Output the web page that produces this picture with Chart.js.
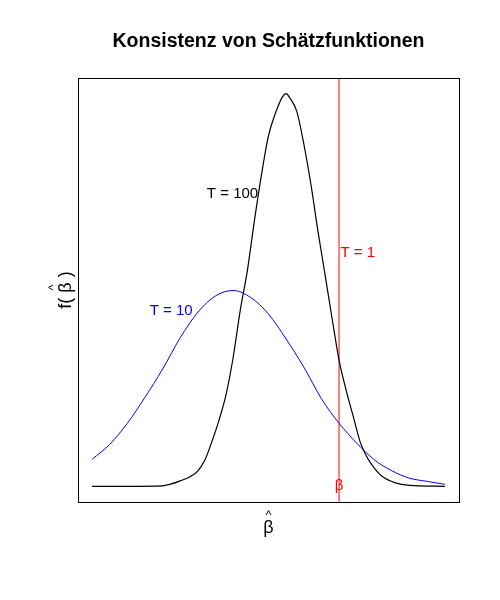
<!DOCTYPE html>
<html>
<head>
<meta charset="utf-8">
<script src="https://cdn.jsdelivr.net/npm/chart.js@4"></script>
<style>
  body { margin: 0; background: #fff; }
  canvas { display: block; }
</style>
</head>
<body>
<canvas id="chart" width="500" height="600"></canvas>
<script>
// beta-hat values and density estimates
const xT100 = [-3.5, -3.0, -2.5, -2.4, -2.25, -2.1, -2.0, -1.9, -1.8, -1.7, -1.6, -1.5, -1.4, -1.3, -1.2, -1.1, -1.0, -0.9, -0.8, -0.75, -0.7, -0.6, -0.5, -0.4, -0.3, -0.2, -0.1, 0, 0.1, 0.2, 0.3, 0.4, 0.5, 0.6, 0.8, 1.0, 1.5];
const yT100 = [0, 0, 0.002, 0.008, 0.022, 0.041, 0.063, 0.108, 0.184, 0.271, 0.376, 0.527, 0.718, 0.878, 1.082, 1.269, 1.429, 1.522, 1.588, 1.6, 1.584, 1.529, 1.396, 1.233, 1.041, 0.865, 0.686, 0.514, 0.392, 0.286, 0.18, 0.116, 0.074, 0.043, 0.014, 0.004, 0];

const xT10 = [-3.5, -3.25, -3.0, -2.75, -2.5, -2.25, -2.0, -1.75, -1.5, -1.25, -1.0, -0.75, -0.5, -0.25, 0, 0.25, 0.5, 0.75, 1.0, 1.25, 1.5];
const yT10 = [0.110, 0.171, 0.257, 0.363, 0.478, 0.606, 0.710, 0.776, 0.798, 0.769, 0.702, 0.600, 0.486, 0.357, 0.257, 0.176, 0.108, 0.063, 0.033, 0.020, 0.008];

const betaTrue = 0;

// text labels in data units
const labels = [
    { text: 'T = 100', x: -1.51, y: 1.19, color: '#000000', align: 'center' },
    { text: 'T = 10', x: -2.38, y: 0.714, color: '#0000ff', align: 'center' },
    { text: 'T = 1', x: 0.02, y: 0.951, color: '#ff0000', align: 'left' },
    { text: 'β', x: betaTrue, y: 0, color: '#ff0000', align: 'center' }
];

const toPoints = (xs, ys) => xs.map((x, i) => ({ x: x, y: ys[i] }));

const xMin = -3.7, xMax = 1.7;
const yMin = -0.064, yMax = 1.664;

const FONT = '"Liberation Sans", Arial, sans-serif';

const decorations = {
    id: 'decorations',
    afterDraw(chart) {
        const { ctx, chartArea: a, scales } = chart;
        ctx.save();
        // box
        ctx.strokeStyle = '#000';
        ctx.lineWidth = 1;
        ctx.strokeRect(Math.round(a.left) + 0.5, Math.round(a.top) + 0.5,
            Math.round(a.right - a.left), Math.round(a.bottom - a.top));

        // labels
        ctx.font = '15px ' + FONT;
        ctx.textBaseline = 'middle';
        labels.forEach(l => {
            ctx.fillStyle = l.color;
            ctx.textAlign = l.align;
            ctx.fillText(l.text, scales.x.getPixelForValue(l.x), scales.y.getPixelForValue(l.y));
        });

        // title
        const cx = (a.left + a.right) / 2;
        ctx.fillStyle = '#000';
        ctx.textAlign = 'center';
        ctx.font = 'bold 19.5px ' + FONT;
        ctx.fillText('Konsistenz von Schätzfunktionen', cx, 42);

        // x axis label with hat
        ctx.font = '18px ' + FONT;
        ctx.fillText('β', cx, 528);
        ctx.font = '12px ' + FONT;
        ctx.fillText('^', cx, 516);

        // y axis label
        ctx.translate(65, (a.top + a.bottom) / 2);
        ctx.rotate(-Math.PI / 2);
        ctx.font = '18px ' + FONT;
        ctx.textAlign = 'left';
        const w1 = ctx.measureText('f( ').width;
        const w2 = ctx.measureText('β').width;
        const w3 = ctx.measureText(' )').width;
        const start = -(w1 + w2 + w3) / 2;
        ctx.fillText('f( ', start, 1);
        ctx.fillText('β', start + w1, 1);
        ctx.fillText(' )', start + w1 + w2, 1);
        ctx.font = '12px ' + FONT;
        ctx.textAlign = 'center';
        ctx.fillText('^', start + w1 + w2 / 2, -11);
        ctx.restore();
    }
};

new Chart(document.getElementById('chart'), {
    type: 'scatter',
    data: {
        datasets: [
            {
                label: 'T = 100',
                data: toPoints(xT100, yT100),
                showLine: true,
                borderColor: '#000000',
                borderWidth: 1.2,
                pointRadius: 0,
                cubicInterpolationMode: 'monotone'
            },
            {
                label: 'T = 10',
                data: toPoints(xT10, yT10),
                showLine: true,
                borderColor: '#0000ff',
                borderWidth: 1,
                pointRadius: 0,
                cubicInterpolationMode: 'monotone'
            },
            {
                label: 'T = 1',
                data: [{ x: betaTrue, y: yMin }, { x: betaTrue, y: yMax }],
                showLine: true,
                borderColor: '#ff0000',
                borderWidth: 1,
                pointRadius: 0
            }
        ]
    },
    options: {
        responsive: false,
        animation: false,
        layout: { padding: { left: 78, right: 41, top: 78, bottom: 98 } },
        scales: {
            x: { type: 'linear', display: false, min: xMin, max: xMax },
            y: { type: 'linear', display: false, min: yMin, max: yMax }
        },
        plugins: {
            legend: { display: false },
            tooltip: { enabled: false }
        }
    },
    plugins: [decorations]
});
</script>
</body>
</html>
